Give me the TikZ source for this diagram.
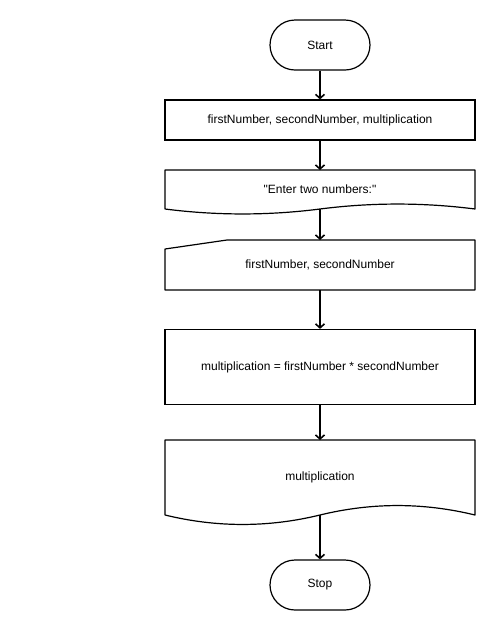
\documentclass[tikz,border=0pt]{standalone}
\usepackage{fontspec}
\setmainfont{Liberation Sans}
\usetikzlibrary{calc,positioning,arrows.meta}

\tikzset{
  terminal/.style={draw, rectangle, rounded corners=25pt, minimum width=100pt, minimum height=50pt, line width=1.2pt},
  procbox/.style={draw, rectangle, minimum width=310pt, line width=1.2pt},
  shapebox/.style={rectangle, minimum width=310pt, outer sep=0pt},
  outline/.style={line width=1.2pt, line join=round},
  flow/.style={-{Straight Barb[length=4pt,width=9pt]}, line width=1.6pt}
}

\begin{document}
\begin{tikzpicture}[x=1pt, y=-1pt, font=\fontsize{12}{14}\selectfont]
      \useasboundingbox[fill=white] (0, 0) rectangle (495, 630);

      \node[terminal] (start) at (320, 45) {Start};
      \node[procbox, minimum height=40pt] (decl) at (320, 120) {firstNumber, secondNumber, multiplication};

      % output "Enter two numbers:"
      \node[shapebox, minimum height=39pt] (prompt) at (320, 189.5) {\textquotedbl Enter two numbers:\textquotedbl};
      \draw[outline] (prompt.south east) -- (prompt.north east) -- (prompt.north west) -- (prompt.south west)
        .. controls ($(prompt.south west)+(51.7, 6.6)$) and ($(prompt.south)+(-51.7, 6.6)$) .. (prompt.south)
        .. controls ($(prompt.south)+(51.7, -6.6)$) and ($(prompt.south east)+(-51.7, -6.6)$) .. cycle;

      % input firstNumber, secondNumber
      \node[shapebox, minimum height=50pt] (read) at (320, 265) {firstNumber, secondNumber};
      \draw[outline] (read.south west) -- ($(read.north west)+(0, 9)$) -- ($(read.north west)+(62, 0)$)
        -- (read.north east) -- (read.south east) -- cycle;

      \node[procbox, minimum height=75pt] (calc) at (320, 367) {multiplication = firstNumber * secondNumber};

      % output multiplication
      \node[shapebox, minimum height=75pt] (result) at (320, 477.5) {multiplication};
      \draw[outline] (result.south east) -- (result.north east) -- (result.north west) -- (result.south west)
        .. controls ($(result.south west)+(51.7, 12.6)$) and ($(result.south)+(-51.7, 12.6)$) .. (result.south)
        .. controls ($(result.south)+(51.7, -12.6)$) and ($(result.south east)+(-51.7, -12.6)$) .. cycle;

      \node[terminal] (stop) at (320, 585) {Stop};

      \draw[flow] (start) -- (decl);
      \draw[flow] (decl) -- (prompt);
      \draw[flow] (prompt.south) -- (read.north);
      \draw[flow] (read) -- (calc);
      \draw[flow] (calc) -- (result);
      \draw[flow] (result.south) -- (stop);
    \end{tikzpicture}
\end{document}
